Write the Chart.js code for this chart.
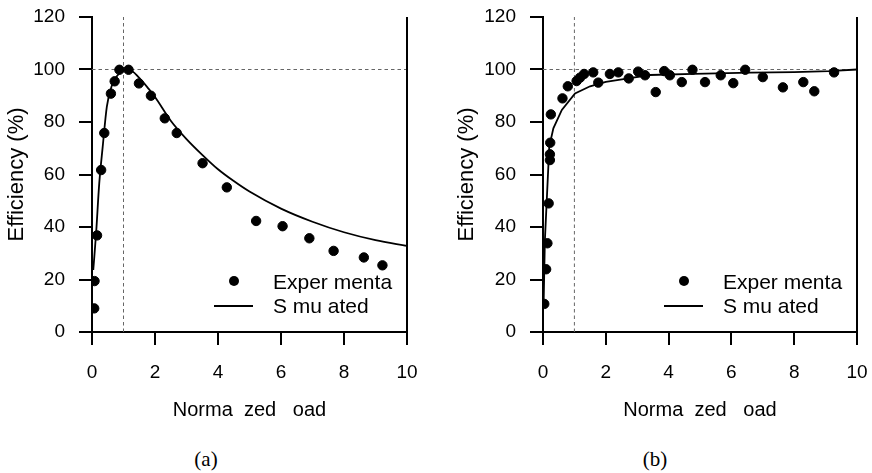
<!DOCTYPE html>
<html>
<head>
<meta charset="utf-8">
<script src="https://cdn.jsdelivr.net/npm/chart.js@4.4.1/dist/chart.umd.min.js"></script>
<style>
  body { margin: 0; background: #fff; }
  .panel { position: absolute; top: 0; width: 436px; height: 430px; }
  .cap { position: absolute; top: 447px; width: 60px; text-align: center;
         font: 21px "Liberation Serif", serif; color: #000; }
</style>
</head>
<body>
<div class="panel" style="left:0"><canvas id="chartA" width="436" height="430"></canvas></div>
<div class="panel" style="left:436px"><canvas id="chartB" width="436" height="430"></canvas></div>
<div class="cap" style="left:176px">(a)</div>
<div class="cap" style="left:625px">(b)</div>
<script>
// ---- data ----
const xTicks = [0, 2, 4, 6, 8, 10];
const yTicks = [0, 20, 40, 60, 80, 100, 120];
const refX = 1;     // dashed vertical at normalised load 1
const refY = 100;   // dashed horizontal at 100 %

// (a) experimental points
const aExpX = [0.07, 0.08, 0.16, 0.29, 0.39, 0.60, 0.72, 0.87, 1.16, 1.49, 1.87, 2.31, 2.69, 3.51, 4.28, 5.21, 6.05, 6.90, 7.67, 8.63, 9.22];
const aExpY = [9.0, 19.4, 36.8, 61.7, 75.8, 90.8, 95.5, 99.9, 99.9, 94.7, 90.0, 81.4, 75.8, 64.3, 55.1, 42.3, 40.3, 35.7, 30.9, 28.4, 25.4];
// (a) simulated curve
const aSimX = [0.04, 0.13, 0.23, 0.34, 0.47, 0.62, 0.8, 1.0, 1.2, 1.5, 1.8, 2.0, 2.5, 3.0, 3.5, 4.0, 4.5, 5.0, 6.0, 7.0, 8.0, 9.0, 10];
const aSimY = [23.6, 37.6, 56.6, 70.6, 85.8, 93.5, 97.6, 99.6, 99.8, 96.8, 92.6, 89.5, 80.5, 73.5, 67.5, 62, 57.5, 53.5, 47, 42, 38, 35, 32.8];

// (b) experimental points
const bExpX = [0.04, 0.10, 0.14, 0.18, 0.22, 0.22, 0.23, 0.25, 0.62, 0.79, 1.07, 1.18, 1.31, 1.60, 1.76, 2.13, 2.40, 2.73, 3.03, 3.25, 3.59, 3.86, 4.04, 4.42, 4.76, 5.16, 5.66, 6.06, 6.44, 7.00, 7.64, 8.29, 8.64, 9.27];
const bExpY = [10.7, 23.9, 33.8, 49.0, 65.5, 67.7, 72.1, 82.9, 89.0, 93.6, 95.6, 96.9, 98.3, 98.9, 95.0, 98.3, 98.9, 96.6, 99.2, 97.8, 91.4, 99.4, 97.8, 95.2, 99.9, 95.2, 97.8, 94.8, 99.9, 97.1, 93.2, 95.2, 91.7, 98.9];
// (b) simulated curve
const bSimX = [0.02, 0.06, 0.15, 0.2, 0.33, 0.6, 1.02, 1.5, 2.0, 2.72, 3.4, 4.8, 6.6, 8.0, 9.1, 10];
const bSimY = [11, 35, 57.9, 70.6, 77.6, 84.6, 90.9, 93.6, 95.3, 96.6, 97.9, 98.3, 98.8, 99.0, 99.4, 100];

const legendLabels = ['Exper menta', 'S mu ated'];
const xTitle = 'Norma  zed   oad';
const yTitle = 'Efficiency (%)';

const sans = '"Liberation Sans", Arial, sans-serif';
const zip = (xs, ys) => xs.map((x, i) => ({ x: x, y: ys[i] }));

// right-hand frame line + in-plot legend
const framePlugin = {
    id: 'frame',
    afterDraw(chart) {
        const { ctx, chartArea: a } = chart;
        ctx.save();
        ctx.strokeStyle = '#000';
        ctx.lineWidth = 2;
        ctx.beginPath();
        ctx.moveTo(a.right, a.top);
        ctx.lineTo(a.right, a.bottom + 1);
        ctx.stroke();

        // legend
        ctx.fillStyle = '#000';
        ctx.beginPath();
        ctx.arc(a.right - 173, a.bottom - 51, 5, 0, Math.PI * 2);
        ctx.fill();
        ctx.beginPath();
        ctx.lineWidth = 1.8;
        ctx.moveTo(a.right - 193, a.bottom - 26);
        ctx.lineTo(a.right - 154, a.bottom - 26);
        ctx.stroke();
        ctx.font = '21px ' + sans;
        ctx.textBaseline = 'alphabetic';
        ctx.fillText(legendLabels[0], a.right - 134, a.bottom - 43);
        ctx.fillText(legendLabels[1], a.right - 134, a.bottom - 19);
        ctx.restore();
    }
};

function makePanel(id, expX, expY, simX, simY, yWidth, yTitlePad, rightPad, smooth) {
    new Chart(document.getElementById(id), {
        type: 'scatter',
        data: {
            datasets: [
                { data: zip(expX, expY), backgroundColor: '#000', borderColor: '#000',
                  pointRadius: 4.7, pointHoverRadius: 4.7, showLine: false, order: 0 },
                { data: zip(simX, simY), borderColor: '#000', borderWidth: 1.8,
                  pointRadius: 0, showLine: true, order: 1,
                  cubicInterpolationMode: smooth ? 'monotone' : 'default' },
                { data: [{ x: refX, y: yTicks[0] }, { x: refX, y: yTicks[yTicks.length - 1] }],
                  borderColor: '#666', borderWidth: 1, borderDash: [3.5, 3],
                  pointRadius: 0, showLine: true, order: 2 },
                { data: [{ x: xTicks[0], y: refY }, { x: xTicks[xTicks.length - 1], y: refY }],
                  borderColor: '#666', borderWidth: 1, borderDash: [3.5, 3],
                  pointRadius: 0, showLine: true, order: 2 }
            ]
        },
        options: {
            responsive: false,
            animation: false,
            layout: { padding: { top: 17, right: rightPad, bottom: 0, left: 0 } },
            plugins: { legend: { display: false }, tooltip: { enabled: false } },
            scales: {
                x: {
                    type: 'linear',
                    min: xTicks[0], max: xTicks[xTicks.length - 1],
                    afterBuildTicks: s => { s.ticks = xTicks.map(v => ({ value: v })); },
                    afterFit: s => { s.height = 98; s.paddingLeft = 0; s.paddingRight = 0; },
                    border: { display: true, color: '#000', width: 2 },
                    grid: { drawOnChartArea: false, drawTicks: true, tickLength: 13,
                            color: '#000', lineWidth: 2 },
                    ticks: { color: '#000', padding: 16, maxRotation: 0,
                             font: { family: sans, size: 19 } },
                    title: { display: true, text: xTitle, color: '#000',
                             padding: { top: 0, bottom: 8 },
                             font: { family: sans, size: 20 } }
                },
                y: {
                    min: yTicks[0], max: yTicks[yTicks.length - 1],
                    afterBuildTicks: s => { s.ticks = yTicks.map(v => ({ value: v })); },
                    afterFit: s => { s.width = yWidth; s.paddingTop = 0; s.paddingBottom = 0; },
                    border: { display: true, color: '#000', width: 2 },
                    grid: { drawOnChartArea: false, drawTicks: true, tickLength: 13,
                            color: '#000', lineWidth: 2 },
                    ticks: { color: '#000', padding: 14,
                             font: { family: sans, size: 19 } },
                    title: { display: true, text: yTitle, color: '#000',
                             padding: { top: yTitlePad, bottom: 0 },
                             font: { family: sans, size: 22 } }
                }
            }
        },
        plugins: [framePlugin]
    });
}

makePanel('chartA', aExpX, aExpY, aSimX, aSimY, 92, 4, 29, true);
makePanel('chartB', bExpX, bExpY, bSimX, bSimY, 107, 18, 15, false);
</script>
</body>
</html>
